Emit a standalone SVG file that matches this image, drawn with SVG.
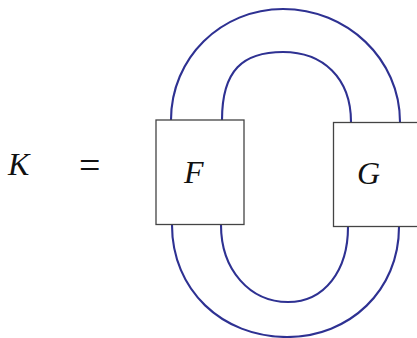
<svg xmlns="http://www.w3.org/2000/svg" width="417" height="338" viewBox="0 0 417 338">
<style>
.box{fill:#fff;stroke:#444;stroke-width:1.3}
.wire{fill:none;stroke:#2e3192;stroke-width:2.1}
.lbl{font-family:"Liberation Serif",serif;font-style:italic;font-size:32px;fill:#111}
.eq{font-family:"Liberation Serif",serif;font-size:38px;fill:#111}
</style>
<g id="connectors">
<path class="wire" d="M171,120 C171,58 221,9 283,9 C347,9 400,59 400,122"/>
<path class="wire" d="M222,120 C222,70 243,52 283,52 C323,52 351,78 351,122"/>
<path class="wire" d="M172,225 C172,290 222,337 287,337 C350,337 399,290 399,227"/>
<path class="wire" d="M221,225 C221,270 250,302 288,302 C325,302 348,270 348,227"/>
</g>
<g id="K"><text class="lbl" x="8" y="175">K</text></g>
<g id="eq"><text class="eq" x="79" y="178">=</text></g>
<g id="F">
<rect class="box" x="156" y="120" width="88" height="104.5"/>
<text class="lbl" x="184" y="183">F</text>
</g>
<g id="G">
<rect class="box" x="333.5" y="122.5" width="90" height="104"/>
<text class="lbl" x="357" y="184">G</text>
</g>
</svg>
